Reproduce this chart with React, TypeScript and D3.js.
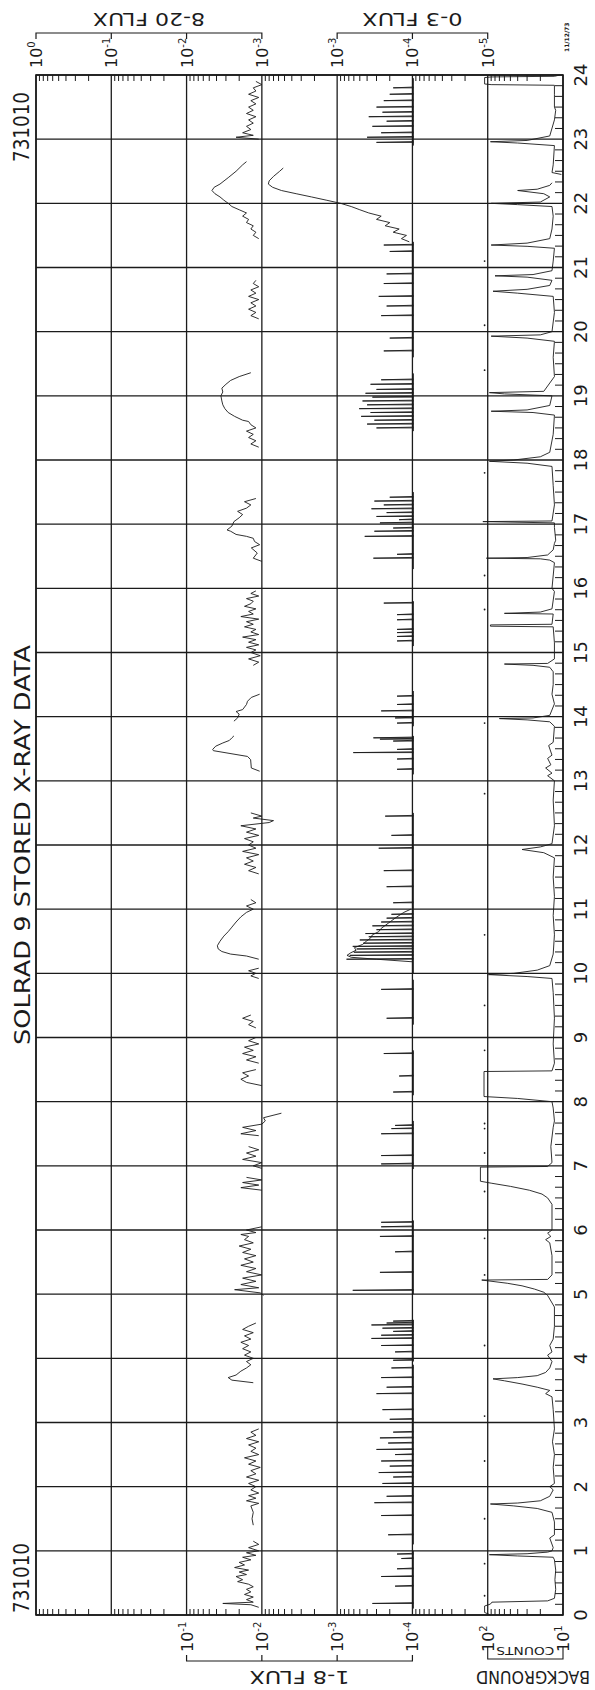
import React from "react";
import * as d3 from "d3";

// SOLRAD 9 stored X-ray data, 1973-10-10, plotted sideways (time runs upward)
const W = 595;
const H = 1690;
const LEFT = 36;
const RIGHT = 563;
const TOP = 75;
const BOTTOM = 1615;

const titleText = "SOLRAD 9 STORED X-RAY DATA";
const dateCode = "731010";
const plotDate = "11/12/73";
const hourLabels = d3.range(0, 25);
const decades820 = ["0", "-1", "-2", "-3"];
const decades03 = ["-3", "-4", "-5"];
const decades18 = ["-1", "-2", "-3", "-4"];
const decadesCounts = ["2", "1"];

// 8-20 A flux, units of 1e-3 (segments split at data gaps)
const flux820 = [
  [[0.12, 1.1], [0.16, 1.4], [0.18, 3.3], [0.2, 1.3], [0.24, 1.6], [0.28, 1.3], [0.32, 1.7], [0.36, 1.4], [0.4, 1.6], [0.44, 1.3], [0.48, 1.5], [0.52, 2.1], [0.55, 1.8], [0.6, 2.2], [0.63, 1.6], [0.67, 2.0], [0.7, 1.5], [0.74, 2.3], [0.78, 1.7], [0.82, 2.0], [0.86, 1.4], [0.9, 1.8], [0.93, 1.2], [0.97, 1.6], [1.0, 1.1], [1.05, 1.5], [1.1, 1.1], [1.15, 1.3]],
  [[1.4, 1.3], [1.5, 1.35], [1.6, 1.3], [1.7, 1.4], [1.74, 1.1], [1.78, 1.6], [1.82, 1.2], [1.86, 1.5], [1.9, 1.1], [1.95, 1.4], [2.0, 1.2], [2.05, 1.5], [2.1, 1.1], [2.15, 1.6], [2.2, 1.2], [2.25, 1.4], [2.3, 1.05], [2.35, 1.5], [2.4, 1.2], [2.45, 1.7], [2.5, 1.1], [2.55, 1.4], [2.6, 1.2], [2.65, 1.5], [2.7, 1.1], [2.75, 1.6], [2.8, 1.2], [2.85, 1.4], [2.9, 1.1]],
  [[3.62, 1.3], [3.66, 2.5], [3.7, 2.8], [3.74, 2.2], [3.8, 1.9], [3.85, 1.6], [3.9, 1.4], [3.95, 1.6], [4.0, 1.3], [4.05, 1.7], [4.1, 1.4], [4.15, 1.8], [4.2, 1.5], [4.25, 1.9], [4.3, 1.4], [4.35, 1.7], [4.4, 1.3], [4.45, 1.8], [4.5, 1.5], [4.55, 1.2]],
  [[4.98, 0.95], [5.02, 1.05], [5.07, 2.3], [5.1, 1.1], [5.15, 1.9], [5.2, 1.2], [5.25, 1.8], [5.3, 1.0], [5.35, 1.6], [5.4, 1.2], [5.45, 1.9], [5.5, 1.3], [5.55, 1.7], [5.6, 1.2], [5.65, 1.8], [5.7, 1.4], [5.75, 2.0], [5.8, 1.3], [5.85, 1.7], [5.9, 1.5], [5.93, 1.9], [5.96, 1.2], [6.0, 1.6], [6.05, 1.0]],
  [[6.62, 1.0], [6.66, 1.9], [6.7, 1.1], [6.74, 1.8], [6.78, 1.0], [6.82, 1.6]],
  [[6.96, 1.0], [7.0, 1.3], [7.05, 1.0], [7.1, 1.8], [7.15, 1.2], [7.2, 1.6], [7.25, 1.1], [7.3, 1.5]],
  [[7.47, 1.1], [7.5, 1.9], [7.55, 1.2], [7.6, 1.8], [7.65, 1.0], [7.7, 0.9], [7.75, 0.95], [7.82, 0.55]],
  [[8.25, 1.0], [8.3, 1.6], [8.35, 1.9], [8.4, 1.5], [8.45, 1.8], [8.5, 1.2]],
  [[8.6, 1.1], [8.65, 1.6], [8.7, 1.2], [8.75, 1.8], [8.8, 1.3], [8.85, 1.7], [8.9, 1.1], [8.95, 1.5], [9.0, 1.2]],
  [[9.15, 1.2], [9.2, 1.5], [9.25, 1.3], [9.3, 1.8], [9.35, 1.4]],
  [[9.92, 1.1], [9.96, 1.4], [10.0, 1.2], [10.04, 1.5], [10.08, 1.1]],
  [[10.22, 1.1], [10.27, 1.6], [10.3, 2.6], [10.34, 3.4], [10.38, 3.8], [10.43, 3.9], [10.5, 3.6], [10.58, 3.2], [10.65, 2.8], [10.72, 2.5], [10.8, 2.2], [10.88, 1.9], [10.95, 1.6], [11.0, 1.3], [11.05, 1.6], [11.1, 1.2], [11.15, 1.4]],
  [[11.55, 1.1], [11.6, 1.5], [11.65, 1.2], [11.7, 1.7], [11.75, 1.3], [11.8, 1.6], [11.85, 1.1], [11.9, 1.8], [11.95, 1.2], [12.0, 1.5], [12.05, 1.3], [12.1, 1.7], [12.15, 1.1], [12.2, 1.6], [12.25, 1.2], [12.3, 1.9], [12.35, 0.8], [12.38, 0.7], [12.42, 1.3], [12.45, 1.0], [12.5, 1.4]],
  [[13.15, 1.07], [13.2, 1.38], [13.33, 1.41], [13.38, 1.55], [13.47, 4.4], [13.49, 4.5], [13.54, 4.1], [13.59, 3.3], [13.63, 2.7], [13.67, 2.5], [13.7, 2.35]],
  [[13.93, 2.35], [13.98, 2.1], [14.04, 2.0], [14.08, 2.2], [14.11, 1.8], [14.19, 1.6], [14.24, 1.55], [14.3, 1.38], [14.35, 1.07]],
  [[14.8, 1.3], [14.85, 1.1], [14.9, 1.5], [14.95, 1.05], [15.0, 1.4], [15.04, 1.2], [15.08, 1.6], [15.12, 1.1], [15.16, 1.5], [15.2, 1.2], [15.24, 1.8], [15.28, 1.1], [15.32, 1.4], [15.36, 1.2], [15.4, 1.7], [15.44, 1.3], [15.48, 1.6], [15.52, 1.1], [15.56, 1.9], [15.6, 1.3], [15.64, 1.5], [15.68, 1.2], [15.72, 1.7], [15.76, 1.4], [15.8, 1.3], [15.84, 1.6], [15.88, 1.1], [15.92, 1.4], [15.96, 1.2]],
  [[16.42, 1.0], [16.47, 1.3], [16.55, 1.15], [16.63, 1.38], [16.68, 1.07], [16.73, 1.25], [16.78, 1.3], [16.81, 1.6], [16.84, 2.2], [16.89, 2.6], [16.91, 2.9], [16.97, 2.5], [17.04, 2.35], [17.1, 2.0], [17.15, 1.8], [17.2, 2.1], [17.25, 1.6], [17.3, 1.4], [17.35, 1.7], [17.4, 1.2]],
  [[18.2, 1.1], [18.25, 1.4], [18.3, 1.2], [18.35, 1.5], [18.4, 1.3], [18.45, 1.6], [18.5, 1.2], [18.55, 1.4], [18.6, 1.5], [18.62, 1.8], [18.68, 2.3], [18.74, 2.8], [18.8, 3.1], [18.86, 3.3], [18.92, 3.4], [19.0, 3.5], [19.06, 3.3], [19.12, 3.4], [19.18, 3.0], [19.24, 2.6], [19.3, 2.0], [19.36, 1.4]],
  [[20.2, 1.1], [20.25, 1.4], [20.3, 1.2], [20.35, 1.5], [20.4, 1.2], [20.45, 1.4], [20.5, 1.1], [20.55, 1.5], [20.6, 1.2], [20.65, 1.4], [20.7, 1.1], [20.75, 1.3], [20.8, 1.2]],
  [[21.45, 1.1], [21.5, 1.3], [21.55, 1.2], [21.6, 1.4], [21.65, 1.3], [21.7, 1.6], [21.75, 1.5], [21.8, 1.8], [21.85, 1.6], [21.9, 2.0], [21.95, 2.5], [22.0, 2.8], [22.05, 3.2], [22.1, 3.6], [22.15, 4.2], [22.2, 4.6], [22.25, 4.3], [22.3, 3.6], [22.4, 2.8], [22.5, 2.2], [22.6, 1.8], [22.65, 1.6]],
  [[23.0, 1.1], [23.03, 2.2], [23.06, 1.3], [23.1, 1.8], [23.15, 1.4], [23.2, 1.6], [23.25, 1.3], [23.3, 1.5], [23.35, 1.2], [23.4, 1.6], [23.45, 1.3], [23.5, 1.5], [23.55, 1.2], [23.6, 1.4], [23.65, 1.1], [23.7, 1.5], [23.75, 1.2], [23.8, 1.3], [23.85, 1.0], [23.9, 1.2]],
];

// 1-8 A flux, units of 1e-4: quiet level, stretches where it is drawn, short spikes, flares
const flux18Quiet = 0.97;
const flux18Runs = [[0.1, 1.0], [1.1, 3.9], [3.95, 4.6], [5.0, 6.15], [6.95, 7.7], [8.1, 8.8], [9.2, 9.9], [10.0, 12.5], [13.1, 13.7], [13.85, 14.4], [15.1, 15.8], [16.3, 17.5], [18.45, 19.35], [19.6, 21.4], [22.9, 23.95]];
const flux18Spikes = [
  [0.18, 3.4], [0.45, 1.7], [0.6, 2.6], [0.72, 1.6], [0.88, 1.4], [0.95, 1.6],
  [1.25, 2.1], [1.55, 2.6], [1.75, 3.2], [1.85, 2.2],
  [2.05, 2.5], [2.15, 1.8], [2.22, 2.8], [2.32, 2.0], [2.4, 2.6], [2.5, 1.7], [2.58, 3.0], [2.68, 2.1], [2.76, 2.7], [2.85, 1.8],
  [3.05, 2.0], [3.2, 2.5], [3.45, 3.0], [3.55, 2.2], [3.7, 2.6], [3.85, 1.9],
  [3.97, 1.8], [4.1, 1.7], [4.2, 2.6], [4.31, 3.5], [4.36, 2.6], [4.42, 1.8], [4.47, 2.5], [4.52, 3.5], [4.55, 2.2], [4.58, 1.8],
  [5.06, 6.2], [5.34, 2.7], [5.66, 1.7], [5.9, 2.7], [6.05, 2.6], [6.12, 2.6],
  [7.03, 2.6], [7.16, 2.6], [7.5, 2.6], [7.58, 1.9], [7.63, 1.7],
  [8.15, 1.8], [8.4, 1.5], [8.75, 2.4], [9.3, 2.2], [9.75, 2.6],
  [10.22, 7.5], [10.28, 6.8], [10.33, 6.0], [10.38, 5.5], [10.42, 6.2], [10.47, 4.5], [10.52, 5.0], [10.57, 3.8], [10.62, 4.2], [10.68, 3.0], [10.74, 3.4], [10.8, 2.6], [10.86, 2.2], [10.92, 1.9],
  [11.1, 1.8], [11.35, 2.2], [11.6, 2.4], [11.95, 2.8], [12.15, 1.9], [12.45, 2.3],
  [13.18, 1.6], [13.34, 1.6], [13.44, 6.1], [13.49, 1.6], [13.62, 1.8], [13.65, 2.7], [13.67, 3.3],
  [13.9, 1.6], [13.98, 1.7], [14.09, 2.6], [14.19, 1.6], [14.32, 1.6],
  [15.18, 1.6], [15.25, 1.6], [15.31, 1.6], [15.36, 1.6], [15.51, 1.6], [15.59, 1.6], [15.77, 2.4],
  [16.47, 3.3], [16.53, 1.6], [16.81, 4.3], [16.89, 3.2], [16.94, 1.8], [17.02, 2.7], [17.07, 1.5],
  [17.12, 3.0], [17.18, 2.2], [17.24, 3.5], [17.3, 2.4], [17.36, 3.2], [17.42, 2.0],
  [18.5, 3.0], [18.56, 4.0], [18.62, 3.2], [18.68, 4.8], [18.74, 3.6], [18.8, 5.1], [18.86, 4.0], [18.92, 4.6], [18.98, 3.4], [19.04, 4.2], [19.1, 3.0], [19.18, 3.6], [19.25, 2.6],
  [19.7, 2.4], [19.9, 2.0], [20.25, 2.6], [20.4, 2.2], [20.55, 2.8], [20.75, 2.4], [20.9, 2.2], [21.25, 2.0], [21.35, 2.4],
  [22.95, 3.0], [23.03, 4.0], [23.1, 2.6], [23.2, 3.4], [23.28, 2.2], [23.35, 3.8], [23.42, 2.5], [23.5, 3.0], [23.6, 2.4], [23.7, 2.0], [23.8, 1.8],
];
const flux18Flares = [
  [[10.18, 1.0], [10.22, 3], [10.25, 6.5], [10.28, 7.4], [10.32, 6.6], [10.36, 5.6], [10.4, 5.9], [10.45, 4.6], [10.5, 4.1], [10.55, 3.6], [10.6, 3.4], [10.65, 2.8], [10.7, 2.6], [10.78, 2.1], [10.86, 1.7], [10.95, 1.3], [11.0, 1.05]],
  [[21.4, 1.1], [21.45, 1.4], [21.5, 1.2], [21.55, 1.8], [21.6, 1.5], [21.65, 2.3], [21.7, 2.0], [21.75, 3.0], [21.8, 2.6], [21.85, 3.8], [21.9, 5.0], [21.95, 6.5], [22.0, 9], [22.05, 14], [22.1, 22], [22.15, 35], [22.2, 55], [22.25, 72], [22.3, 82], [22.35, 80], [22.42, 70], [22.5, 58], [22.55, 52]],
];

// 0-3 A flux, isolated points near the bottom of its range (units of 1e-5)
const flux03Points = [[0.3, 1.1], [0.8, 1.1], [1.5, 1.1], [2.4, 1.1], [3.1, 1.1], [4.2, 1.1], [5.3, 1.1], [5.87, 1.1], [6.6, 1.1], [7.2, 1.1], [7.58, 1.1], [7.66, 1.1], [8.8, 1.1], [9.5, 1.1], [10.6, 1.1], [12.8, 1.1], [13.9, 1.1], [15.67, 1.1], [16.2, 1.1], [17.8, 1.1], [19.4, 1.1], [20.1, 1.1], [21.1, 1.1]];

// background counts
const background = [
  [[0.0, 92], [0.04, 110], [0.14, 110], [0.17, 92], [0.2, 88], [0.22, 16], [0.26, 13], [0.4, 12.5], [0.55, 12.8], [0.7, 12.5], [0.86, 13], [0.9, 13.5], [0.92, 40], [0.94, 95], [0.955, 30], [0.98, 16], [1.0, 14], [1.05, 13.5], [1.2, 15], [1.25, 13], [1.45, 13], [1.6, 14], [1.66, 22], [1.7, 45], [1.73, 92], [1.745, 40], [1.78, 20], [1.85, 15], [1.95, 13.5], [2.0, 15], [2.05, 13], [2.3, 13.5], [2.5, 13], [2.7, 13.8], [2.9, 13], [3.2, 13.5], [3.4, 14], [3.45, 17], [3.5, 15], [3.55, 22], [3.6, 35], [3.65, 60], [3.68, 85], [3.7, 40], [3.73, 22], [3.78, 17], [3.85, 15], [3.95, 14], [4.05, 16], [4.1, 14], [4.2, 15], [4.3, 13.5], [4.5, 13], [4.8, 13], [4.98, 16], [5.03, 18], [5.08, 24], [5.13, 35], [5.17, 55], [5.22, 120], [5.23, 16], [5.3, 14], [5.6, 14], [5.8, 15], [5.85, 17], [5.9, 14.5], [5.95, 16], [6.0, 14], [6.4, 14], [6.5, 16], [6.56, 19], [6.62, 28], [6.68, 50], [6.73, 90], [6.76, 125], [6.98, 125], [6.99, 16], [7.05, 14], [7.3, 14.5], [7.6, 13.5], [7.7, 13], [7.9, 13.5], [8.0, 14], [8.05, 40], [8.08, 112], [8.47, 112], [8.48, 14], [8.6, 13], [8.9, 13.5], [9.3, 13], [9.7, 13.5], [9.92, 14], [9.95, 30], [9.98, 98], [10.0, 45], [10.05, 22], [10.12, 15], [10.3, 13.5], [10.6, 13], [10.9, 13.5], [11.2, 13], [11.5, 13.5], [11.8, 13], [11.88, 18], [11.93, 35], [11.97, 20], [12.02, 14], [12.3, 13], [12.7, 13.5], [13.0, 13], [13.08, 16], [13.12, 14], [13.2, 17], [13.25, 14.5], [13.35, 16], [13.4, 14], [13.55, 15.5], [13.6, 13.5], [13.85, 13], [13.92, 15], [13.95, 30], [13.97, 70], [13.98, 25], [14.02, 15], [14.2, 13], [14.35, 14], [14.5, 13.5], [14.7, 13.5], [14.77, 15], [14.8, 25], [14.82, 60], [14.83, 16], [14.9, 13], [15.15, 13], [15.4, 13.5], [15.41, 92], [15.43, 92], [15.44, 14], [15.6, 13.5], [15.61, 60], [15.63, 20], [15.68, 14], [15.95, 13], [16.0, 14], [16.4, 13], [16.44, 15], [16.46, 20], [16.47, 104], [16.48, 30], [16.52, 16], [16.6, 13.5], [16.7, 13], [16.75, 12.5], [16.95, 13], [17.02, 13], [17.04, 116], [17.05, 14], [17.3, 13], [17.6, 13.5], [17.9, 14], [17.95, 30], [17.98, 95], [18.0, 45], [18.05, 20], [18.12, 15], [18.4, 13.5], [18.7, 13], [18.74, 25], [18.76, 90], [18.78, 30], [18.85, 15], [19.0, 14], [19.03, 60], [19.05, 95], [19.07, 18], [19.3, 13], [19.6, 13.5], [19.85, 13], [19.9, 30], [19.93, 90], [19.95, 20], [20.0, 14], [20.3, 13], [20.55, 13.5], [20.6, 40], [20.63, 85], [20.66, 30], [20.72, 15], [20.8, 14], [20.85, 30], [20.87, 80], [20.89, 25], [20.95, 14], [21.1, 13.5], [21.3, 13], [21.33, 30], [21.35, 90], [21.38, 30], [21.45, 15], [21.6, 14], [21.8, 13.5], [21.95, 14], [21.98, 40], [22.0, 90], [22.02, 20], [22.1, 15], [22.15, 18], [22.2, 40], [22.22, 22], [22.28, 15], [22.32, 14]],
  [[22.45, 10.5], [22.48, 14], [22.6, 13.5], [22.9, 13], [22.94, 40], [22.96, 92], [22.98, 30], [23.05, 15], [23.3, 13], [23.45, 12.5], [23.5, 13], [23.7, 13], [23.84, 13], [23.85, 90], [23.86, 110], [23.96, 110], [23.97, 90], [23.98, 13], [24.0, 11]],
];

const FONT = "'DejaVu Sans', sans-serif";
const INK = "#1b1b1b";

export default function App() {
  const col = d3.scaleLinear().domain([0, 7]).range([LEFT, RIGHT]);
  const yS = d3.scaleLinear().domain([0, 24]).range([BOTTOM, TOP]);
  const x820 = d3.scaleLog().domain([1000, 1]).range([col(0), col(3)]);
  const x18 = d3.scaleLog().domain([1000, 1]).range([col(2), col(5)]);
  const x03 = d3.scaleLog().domain([100, 1]).range([col(4), col(6)]);
  const xBg = d3.scaleLog().domain([100, 10]).range([col(6), col(7)]);

  const line820 = d3.line<number[]>().x((d) => x820(d[1])).y((d) => yS(d[0]));
  const line18 = d3.line<number[]>().x((d) => x18(d[1])).y((d) => yS(d[0]));
  const lineBg = d3.line<number[]>().x((d) => xBg(d[1])).y((d) => yS(d[0]));

  const minorTicks: number[] = [];
  d3.range(7).forEach((c) => {
    const s = d3.scaleLog().domain([10, 1]).range([col(c), col(c + 1)]);
    d3.range(2, 10).forEach((m) => minorTicks.push(s(m)));
  });
  const hourMinor = d3.range(0, 24 * 6 + 1).filter((i) => i % 6 !== 0).map((i) => i / 6);

  const decadeLabel = (x: number, y: number, exp: string, key: string) => (
    <text key={key} transform={`translate(${x + 6},${y}) rotate(-90)`} fontSize={16} fontFamily={FONT} fill={INK}>
      10<tspan dy={-7} fontSize={10}>{exp}</tspan>
    </text>
  );

  return (
    <svg width={W} height={H} style={{ position: "absolute", left: 0, top: 0, background: "#fff" }}>
      <rect width={W} height={H} fill="#fff" />
      {/* grid */}
      {d3.range(8).map((c) => (
        <line key={"v" + c} x1={col(c)} x2={col(c)} y1={TOP} y2={BOTTOM} stroke={INK} strokeWidth={1.3} />
      ))}
      {hourLabels.map((h) => (
        <line key={"h" + h} x1={LEFT} x2={RIGHT} y1={yS(h)} y2={yS(h)} stroke={INK} strokeWidth={1.3} />
      ))}
      {minorTicks.map((x, i) => (
        <g key={"mt" + i}>
          <line x1={x} x2={x} y1={TOP} y2={TOP + 6} stroke={INK} strokeWidth={1} />
          <line x1={x} x2={x} y1={BOTTOM} y2={BOTTOM - 6} stroke={INK} strokeWidth={1} />
        </g>
      ))}
      {hourMinor.map((h) => (
        <line key={"hm" + h} x1={RIGHT} x2={RIGHT - 8} y1={yS(h)} y2={yS(h)} stroke={INK} strokeWidth={1} />
      ))}

      {/* traces */}
      <g fill="none" stroke={INK} strokeWidth={0.9}>
        {flux820.map((seg, i) => (
          <path key={"a" + i} d={line820(seg) || ""} />
        ))}
        {flux18Runs.map(([a, b], i) => (
          <line key={"r" + i} x1={x18(flux18Quiet)} x2={x18(flux18Quiet)} y1={yS(a)} y2={yS(b)} />
        ))}
        {flux18Spikes.map(([h, v], i) => (
          <path key={"s" + i} d={`M${x18(flux18Quiet)},${yS(h)}L${x18(v)},${yS(h)}L${x18(flux18Quiet)},${yS(h + 0.012)}`} />
        ))}
        {flux18Flares.map((seg, i) => (
          <path key={"f" + i} d={line18(seg) || ""} />
        ))}
        {background.map((seg, i) => (
          <path key={"b" + i} d={lineBg(seg) || ""} />
        ))}
      </g>
      {flux03Points.map(([h, v], i) => (
        <circle key={"p" + i} cx={x03(v)} cy={yS(h)} r={0.9} fill={INK} />
      ))}

      {/* frame */}
      <rect x={LEFT} y={TOP} width={RIGHT - LEFT} height={BOTTOM - TOP} fill="none" stroke={INK} strokeWidth={1.6} />

      {/* hour labels */}
      {hourLabels.map((h) => (
        <text key={"hl" + h} transform={`translate(${587},${yS(h)}) rotate(-90)`} textAnchor="middle" fontSize={18} fontFamily={FONT} fill={INK}>
          {h}
        </text>
      ))}

      {/* top axes */}
      {decades820.map((e, i) => decadeLabel(col(i), 68, e, "t820" + i))}
      {decades03.map((e, i) => decadeLabel(col(4 + i), 68, e, "t03" + i))}
      <path d={`M${col(0)},39V33H${col(3)}V39M${col(1)},33V39M${col(2)},33V39`} fill="none" stroke={INK} strokeWidth={1.2} />
      <path d={`M${col(4)},39V33H${col(6)}V39M${col(5)},33V39`} fill="none" stroke={INK} strokeWidth={1.2} />
      <text transform={`translate(${(col(0) + col(3)) / 2},13) rotate(180)`} textAnchor="middle" fontSize={18} fontFamily={FONT} fill={INK} textLength={112} lengthAdjust="spacingAndGlyphs">
        8-20 FLUX
      </text>
      <text transform={`translate(${(col(4) + col(6)) / 2},13) rotate(180)`} textAnchor="middle" fontSize={18} fontFamily={FONT} fill={INK} textLength={100} lengthAdjust="spacingAndGlyphs">
        0-3 FLUX
      </text>

      {/* bottom axes */}
      {decades18.map((e, i) => decadeLabel(col(2 + i), 1652, e, "b18" + i))}
      {decadesCounts.map((e, i) => decadeLabel(col(6 + i), 1652, e, "bc" + i))}
      <path d={`M${col(2)},1655V1661H${col(5)}V1655M${col(3)},1661V1655M${col(4)},1661V1655`} fill="none" stroke={INK} strokeWidth={1.2} />
      <text transform={`translate(${(col(2) + col(5)) / 2},1671) rotate(180)`} textAnchor="middle" fontSize={18} fontFamily={FONT} fill={INK} textLength={100} lengthAdjust="spacingAndGlyphs">
        1-8 FLUX
      </text>
      <path d={`M${col(6)},1646V1659H${col(7)}V1646`} fill="none" stroke={INK} strokeWidth={1.1} />
      <text transform={`translate(${(col(6) + col(7)) / 2},1647) rotate(180)`} textAnchor="middle" fontSize={11} fontFamily={FONT} fill={INK} textLength={58} lengthAdjust="spacingAndGlyphs">
        COUNTS
      </text>
      <text transform={`translate(${533},1671) rotate(180)`} textAnchor="middle" fontSize={18} fontFamily={FONT} fill={INK} textLength={114} lengthAdjust="spacingAndGlyphs">
        BACKGROUND
      </text>

      {/* date codes and title */}
      <text transform="translate(29,162) rotate(-90)" fontSize={22} fontFamily={FONT} fill={INK} textLength={70} lengthAdjust="spacingAndGlyphs">
        {dateCode}
      </text>
      <text transform="translate(29,1613) rotate(-90)" fontSize={22} fontFamily={FONT} fill={INK} textLength={70} lengthAdjust="spacingAndGlyphs">
        {dateCode}
      </text>
      <text transform={`translate(30,${yS(12) + 200}) rotate(-90)`} fontSize={21} fontFamily={FONT} fill={INK} textLength={400} lengthAdjust="spacingAndGlyphs">
        {titleText}
      </text>
      <text transform="translate(569,52) rotate(-90)" fontSize={6} fontWeight="bold" fontFamily={FONT} fill={INK}>
        {plotDate}
      </text>
    </svg>
  );
}
